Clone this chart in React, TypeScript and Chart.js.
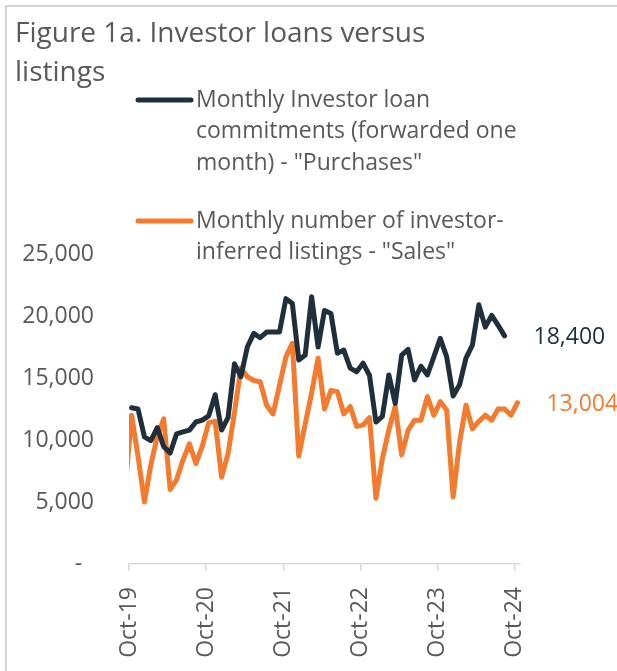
import React, { useEffect, useRef } from "react";
import { Chart, registerables } from "chart.js";

Chart.register(...registerables);

// ---------- data ----------
const months = [
  "Sep-19", "Oct-19", "Nov-19", "Dec-19", "Jan-20", "Feb-20", "Mar-20", "Apr-20", "May-20", "Jun-20", "Jul-20", "Aug-20",
  "Sep-20", "Oct-20", "Nov-20", "Dec-20", "Jan-21", "Feb-21", "Mar-21", "Apr-21", "May-21", "Jun-21", "Jul-21", "Aug-21",
  "Sep-21", "Oct-21", "Nov-21", "Dec-21", "Jan-22", "Feb-22", "Mar-22", "Apr-22", "May-22", "Jun-22", "Jul-22", "Aug-22",
  "Sep-22", "Oct-22", "Nov-22", "Dec-22", "Jan-23", "Feb-23", "Mar-23", "Apr-23", "May-23", "Jun-23", "Jul-23", "Aug-23",
  "Sep-23", "Oct-23", "Nov-23", "Dec-23", "Jan-24", "Feb-24", "Mar-24", "Apr-24", "May-24", "Jun-24", "Jul-24", "Aug-24",
  "Sep-24", "Oct-24",
];

const tickLabels = ["Oct-19", "Oct-20", "Oct-21", "Oct-22", "Oct-23", "Oct-24"];

// Monthly Investor loan commitments (forwarded one month) - "Purchases"
const purchases: (number | null)[] = [
  null,
  12600, 12500, 10250, 9950, 11000, 9450, 8950, 10500, 10650, 10800,
  11450, 11600, 11950, 13650, 10800, 11800, 16150, 15100, 17500, 18600,
  18250, 18700, 18700, 18700, 21400, 21000, 16450, 16850, 21550, 17500,
  20450, 20200, 17000, 17250, 15800, 15500, 16200, 15200, 11450, 11900,
  15250, 12950, 16850, 17300, 14850, 15950, 15250, 16700, 18200, 16700,
  13550, 14450, 16600, 17650, 20900, 19100, 20050, 19250, 18400,
  null, null,
];

// Monthly number of investor-inferred listings - "Sales"
const sales: number[] = [
  6000,
  12000, 8700, 5000, 8000, 10300, 11700, 6000, 6800, 8400, 9700,
  8100, 9500, 11400, 11500, 7000, 8900, 12200, 15800, 15100, 14800,
  14700, 12800, 12100, 14400, 16700, 17800, 8700, 11300, 13800, 16600,
  12500, 14000, 13900, 12100, 12700, 11100, 11200, 11800, 5300, 8500,
  10800, 12700, 8800, 10800, 11600, 11600, 13500, 12000, 13100, 12400,
  5400, 9800, 12800, 10900, 11500, 12000, 11600, 12500, 12500, 12000, 13004,
];

const yTicks = [0, 5000, 10000, 15000, 20000, 25000];

const titleLines = ["Figure 1a. Investor loans versus", "listings"];
const legendPurchases = ["Monthly Investor loan", "commitments (forwarded one", 'month) - "Purchases"'];
const legendSales = ["Monthly number of investor-", 'inferred listings - "Sales"'];

// ---------- styles ----------
const FONT = '"Open Sans", sans-serif';
const TEXT = "#595959";
const NAVY = "#1f2f3c";
const ORANGE = "#f47b2e";
const AXIS = "#d9d9d9";
const TICK_SHIFT = 0.4;

const overlayPlugin = {
  id: "overlay",
  afterDraw(chart: any) {
    const ctx = chart.ctx as CanvasRenderingContext2D;
    ctx.save();
    ctx.textBaseline = "middle";
    ctx.textAlign = "left";
    // title
    ctx.fillStyle = TEXT;
    ctx.font = `28px ${FONT}`;
    titleLines.forEach((t, k) => ctx.fillText(t, 15, 34 + k * 39));

    // legend
    const items = [
      { lines: legendPurchases, color: NAVY, y: 100 },
      { lines: legendSales, color: ORANGE, y: 221 },
    ];
    items.forEach((it) => {
      ctx.strokeStyle = it.color;
      ctx.lineWidth = 5;
      ctx.lineCap = "round";
      ctx.beginPath();
      ctx.moveTo(138, it.y);
      ctx.lineTo(191, it.y);
      ctx.stroke();
      ctx.fillStyle = TEXT;
      ctx.font = `23px ${FONT}`;
      it.lines.forEach((t, k) => ctx.fillText(t, 196, it.y + k * 31.5));
    });

    // end labels
    ctx.font = `23px ${FONT}`;
    chart.data.datasets.forEach((ds: any, di: number) => {
      const meta = chart.getDatasetMeta(di);
      let last = -1;
      ds.data.forEach((p: any, i: number) => {
        if (p && p.y != null) last = i;
      });
      if (last < 0) return;
      const el = meta.data[last];
      ctx.fillStyle = ds.borderColor;
      ctx.fillText(Number(ds.data[last].y).toLocaleString("en-US"), el.x + 29, el.y + 2);
    });
    ctx.restore();
  },
};

export default function App() {
  const ref = useRef<HTMLCanvasElement | null>(null);

  useEffect(() => {
    if (!ref.current) return;
    const toPoints = (arr: (number | null)[]) => arr.map((v, i) => ({ x: i, y: v }));
    const tickPos = tickLabels.map((l) => months.indexOf(l) - TICK_SHIFT);

    const chart = new Chart(ref.current, {
      type: "line",
      data: {
        datasets: [
          {
            label: 'Monthly Investor loan commitments (forwarded one month) - "Purchases"',
            data: toPoints(purchases) as any,
            borderColor: NAVY,
            backgroundColor: NAVY,
            borderWidth: 5,
            pointRadius: 0,
            tension: 0,
            borderJoinStyle: "round",
            borderCapStyle: "round",
            spanGaps: false,
          },
          {
            label: 'Monthly number of investor-inferred listings - "Sales"',
            data: toPoints(sales) as any,
            borderColor: ORANGE,
            backgroundColor: ORANGE,
            borderWidth: 5,
            pointRadius: 0,
            tension: 0,
            borderJoinStyle: "round",
            borderCapStyle: "round",
            clip: 0 as any,
          },
        ],
      },
      options: {
        responsive: false,
        animation: false,
        events: [],
        layout: { padding: { top: 254, right: 97, left: 0, bottom: 0 } },
        plugins: {
          legend: { display: false },
          title: { display: false },
          tooltip: { enabled: false },
        },
        scales: {
          x: {
            type: "linear",
            min: tickPos[0],
            max: months.length - 1 + TICK_SHIFT,
            afterBuildTicks: (scale: any) => {
              scale.ticks = tickPos.map((v) => ({ value: v }));
            },
            afterFit: (scale: any) => {
              scale.height = 107;
            },
            grid: {
              drawOnChartArea: false,
              drawTicks: true,
              tickLength: 7,
              color: AXIS,
              lineWidth: 1.5,
            },
            border: { display: true, color: AXIS, width: 1.5 },
            ticks: {
              autoSkip: false,
              maxRotation: 90,
              minRotation: 90,
              padding: 16,
              color: TEXT,
              font: { family: FONT, size: 23 },
              callback: (value: any) => {
                const idx = tickPos.findIndex((p) => Math.abs(p - Number(value)) < 1e-6);
                return idx >= 0 ? tickLabels[idx] : "";
              },
            },
          },
          y: {
            min: yTicks[0],
            max: yTicks[yTicks.length - 1],
            afterBuildTicks: (scale: any) => {
              scale.ticks = yTicks.map((v) => ({ value: v }));
            },
            afterFit: (scale: any) => {
              scale.width = 129;
            },
            grid: { display: false, drawTicks: false },
            border: { display: false },
            ticks: {
              padding: 35,
              color: TEXT,
              font: { family: FONT, size: 23 },
              callback: (value: any) =>
                Number(value) === 0 ? "-  " : Number(value).toLocaleString("en-US"),
            },
          },
        },
      },
      plugins: [overlayPlugin],
    });
    return () => chart.destroy();
  }, []);

  return (
    <div style={{ position: "fixed", left: 0, top: 0, width: 617, height: 671, background: "#fff", overflow: "hidden" }}>
      <div
        style={{
          position: "absolute",
          left: 5,
          top: 5,
          width: 700,
          height: 800,
          borderTop: "2px solid #d4d4d4",
          borderLeft: "2px solid #d4d4d4",
        }}
      />
      <canvas ref={ref} width={617} height={671} style={{ position: "absolute", left: 0, top: 0, width: 617, height: 671 }} />
    </div>
  );
}
